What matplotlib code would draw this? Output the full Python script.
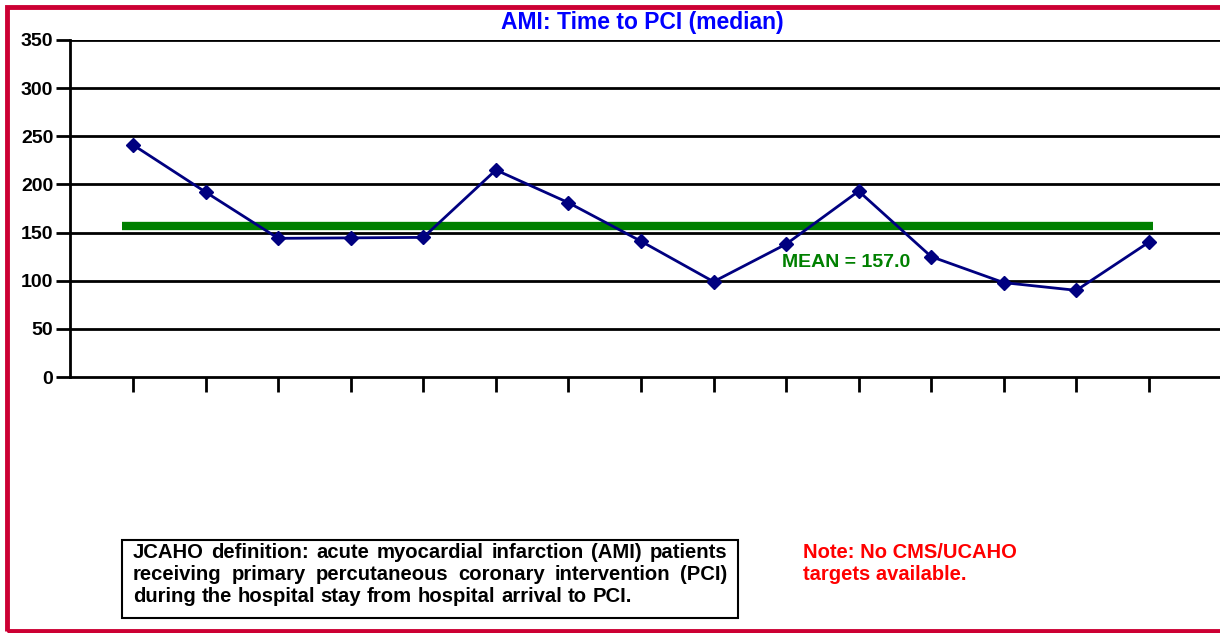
import numpy as np
import matplotlib.pyplot as plt
from matplotlib.patches import Rectangle

plt.rcParams['font.family'] = ['Liberation Sans', 'DejaVu Sans']
plt.rcParams['font.weight'] = 'bold'

# Median time to PCI (minutes), 15 periods
periods = np.arange(15)
median_time = [241, 192, 144, 144.5, 145, 215, 181, 141, 99, 138,
               193, 125, 98, 90, 140]
mean_value = 157.0
y_ticks = [0, 50, 100, 150, 200, 250, 300, 350]

definition_lines = [
    'JCAHO definition: acute myocardial infarction (AMI) patients',
    'receiving primary percutaneous coronary intervention (PCI)',
    'during the hospital stay from hospital arrival to PCI.',
]
note_lines = ['Note: No CMS/UCAHO', 'targets available.']

W, H = 1220, 633
fig = plt.figure(figsize=(W / 100, H / 100), dpi=100)
ax = fig.add_axes([70 / W, 1 - 377 / H, 1150 / W, 337 / H])

for y in y_ticks[1:]:
    ax.axhline(y, color='black', lw=2, zorder=1)

ax.hlines(mean_value, -0.15, 14.05, color='#008000', lw=6, zorder=2)
ax.plot(periods, median_time, color='#000080', lw=2, marker='D',
        markersize=7, zorder=3)

ax.text(8.94, 119, f'MEAN = {mean_value:.1f}', color='#008000',
        fontsize=14, fontweight='bold', va='center', ha='left')

ax.set_xlim(-0.87, 14.98)
ax.set_ylim(0, 350)
ax.set_yticks(y_ticks)
ax.set_xticks(periods)
ax.set_xticklabels([])
ax.tick_params(axis='y', direction='out', length=10, width=2,
               labelsize=14, pad=2)
ax.tick_params(axis='x', direction='out', length=11, width=2)
for lbl in ax.get_yticklabels():
    lbl.set_fontweight('bold')
for side in ['top', 'right']:
    ax.spines[side].set_visible(False)
for side in ['left', 'bottom']:
    ax.spines[side].set_linewidth(2)

fig.text(642 / W, 1 - 22 / H, 'AMI: Time to PCI (median)',
         color='#0000FF', fontsize=16.5, fontweight='bold',
         ha='center', va='center')

# red frame (right edge runs off the picture)
fig.patches.append(Rectangle((7 / W, 2 / H), 1.05, 624 / H,
                             transform=fig.transFigure, fill=False,
                             edgecolor='#CC0033', lw=3.5))

# definition box with justified text
fig.patches.append(Rectangle((122 / W, 1 - 618 / H), 616 / W, 78 / H,
                             transform=fig.transFigure, fill=False,
                             edgecolor='black', lw=1.5))
renderer = fig.canvas.get_renderer()
left_px, right_px = 133, 727
line_y = [553, 574, 596]
for k, line in enumerate(definition_lines):
    words = line.split(' ')
    texts = [fig.text(0, 1 - line_y[k] / H, w, fontsize=14.6,
                      fontweight='bold', ha='left', va='center')
             for w in words]
    widths = [t.get_window_extent(renderer).width for t in texts]
    if k < len(definition_lines) - 1:
        gap = (right_px - left_px - sum(widths)) / (len(words) - 1)
    else:
        gap = texts[0].get_fontsize() * 100 / 72 * 0.28
    x = left_px
    for t, w in zip(texts, widths):
        t.set_x(x / W)
        x += w + gap

for k, line in enumerate(note_lines):
    fig.text(803 / W, 1 - (553 + 21 * k) / H, line, color='#FF0000',
             fontsize=14.5, fontweight='bold', ha='left', va='center')

fig.savefig('out.png', dpi=100)
